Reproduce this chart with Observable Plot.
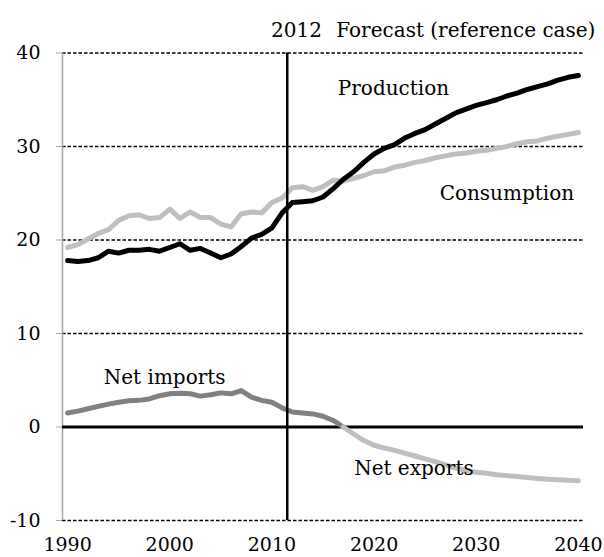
<!DOCTYPE html>
<html>
<head>
<meta charset="utf-8">
<script src="https://cdn.jsdelivr.net/npm/d3@7"></script>
<script src="https://cdn.jsdelivr.net/npm/@observablehq/plot@0.6"></script>
<style>
  html, body { margin: 0; padding: 0; background: #fff; }
</style>
</head>
<body>
<div id="chart"></div>
<script>
const years = [1990,1991,1992,1993,1994,1995,1996,1997,1998,1999,
  2000,2001,2002,2003,2004,2005,2006,2007,2008,2009,
  2010,2011,2012,2013,2014,2015,2016,2017,2018,2019,
  2020,2021,2022,2023,2024,2025,2026,2027,2028,2029,
  2030,2031,2032,2033,2034,2035,2036,2037,2038,2039,2040];

const production = [17.8,17.7,17.8,18.1,18.8,18.6,18.9,18.9,19.0,18.8,
  19.2,19.6,18.9,19.1,18.6,18.1,18.5,19.3,20.2,20.6,
  21.3,22.9,24.0,24.1,24.2,24.6,25.5,26.5,27.3,28.3,
  29.2,29.8,30.2,30.9,31.4,31.8,32.4,33.0,33.6,34.0,
  34.4,34.7,35.0,35.4,35.7,36.1,36.4,36.7,37.1,37.4,37.6];

const consumption = [19.2,19.5,20.1,20.7,21.1,22.1,22.6,22.7,22.3,22.4,
  23.3,22.3,23.0,22.4,22.4,21.7,21.4,22.8,23.0,22.9,
  24.0,24.5,25.6,25.7,25.3,25.7,26.4,26.3,26.6,26.9,
  27.3,27.4,27.8,28.0,28.3,28.5,28.8,29.0,29.2,29.3,
  29.5,29.6,29.8,30.0,30.3,30.5,30.6,30.9,31.1,31.3,31.5];

// positive = net imports, negative = net exports
const netTrade = [1.5,1.7,1.95,2.2,2.45,2.65,2.8,2.85,3.0,3.35,
  3.55,3.6,3.55,3.3,3.45,3.65,3.55,3.9,3.2,2.85,
  2.65,2.05,1.6,1.5,1.4,1.15,0.7,0.0,-0.75,-1.45,
  -1.95,-2.25,-2.5,-2.8,-3.1,-3.4,-3.7,-4.05,-4.4,-4.65,
  -4.85,-4.95,-5.1,-5.2,-5.3,-5.4,-5.5,-5.6,-5.65,-5.7,-5.75];

const crossoverYear = 2017;   // net imports turn into net exports
const forecastStart = 2011.5; // boundary between history and projection
const yTicks = [-10, 0, 10, 20, 30, 40];
const gridValues = [-10, 10, 20, 30, 40];
const xTicks = [1990, 2000, 2010, 2020, 2030, 2040];

const prodData = years.map((y, i) => ({year: y, value: production[i]}));
const consData = years.map((y, i) => ({year: y, value: consumption[i]}));
const tradeData = years.map((y, i) => ({year: y, value: netTrade[i]}));
const importsData = tradeData.filter(d => d.year <= crossoverYear);
const exportsData = tradeData.filter(d => d.year >= crossoverYear);

const font = "DejaVu Serif";

const chart = Plot.plot({
  width: 604,
  height: 557,
  marginLeft: 62,
  marginRight: 21,
  marginTop: 52.5,
  marginBottom: 37,
  style: {fontFamily: font, fontSize: "19px", background: "#fff", color: "#000"},
  x: {domain: [1989.5, 2040.5]},
  y: {domain: [-10, 40]},
  marks: [
    Plot.ruleY(gridValues, {stroke: "#000", strokeWidth: 1.3, strokeDasharray: "3.5,2"}),
    Plot.axisY({ticks: yTicks, tickSize: 6, tickPadding: 16, stroke: "#a6a6a6", fill: "#000", fontSize: 19, label: null, tickFormat: d => String(d)}),
    Plot.axisX({ticks: xTicks, tickSize: 0, tickPadding: 17, tickFormat: d => String(d), fill: "#000", fontSize: 19, label: null}),
    Plot.ruleX([1989.5], {y1: -10, y2: 40, stroke: "#a6a6a6", strokeWidth: 1.5}),
    Plot.ruleY([0], {stroke: "#000", strokeWidth: 3}),
    Plot.line(consData, {x: "year", y: "value", stroke: "#bfbfbf", strokeWidth: 5, strokeLinejoin: "round", strokeLinecap: "round"}),
    Plot.line(prodData, {x: "year", y: "value", stroke: "#000", strokeWidth: 5, strokeLinejoin: "round", strokeLinecap: "round"}),
    Plot.line(importsData, {x: "year", y: "value", stroke: "#808080", strokeWidth: 5, strokeLinejoin: "round", strokeLinecap: "round"}),
    Plot.line(exportsData, {x: "year", y: "value", stroke: "#bfbfbf", strokeWidth: 5, strokeLinejoin: "round", strokeLinecap: "round"}),
    Plot.ruleX([forecastStart], {y1: -10, y2: 40, stroke: "#000", strokeWidth: 2.5}),
    Plot.text(["Production"], {x: 2021.9, y: 36.2, text: d => d, fontSize: 20, fill: "#000"}),
    Plot.text(["Consumption"], {x: 2033.0, y: 25.0, text: d => d, fontSize: 20, fill: "#000"}),
    Plot.text(["Net imports"], {x: 1999.5, y: 5.3, text: d => d, fontSize: 20, fill: "#000"}),
    Plot.text(["Net exports"], {x: 2023.9, y: -4.4, text: d => d, fontSize: 20, fill: "#000"}),
    Plot.text(["2012"], {x: 2012.4, y: 42.4, text: d => d, fontSize: 20, fill: "#000"}),
    Plot.text(["Forecast (reference case)"], {x: 2016.3, y: 42.4, text: d => d, textAnchor: "start", fontSize: 20, fill: "#000"})
  ]
});

document.getElementById("chart").appendChild(chart);
</script>
</body>
</html>
